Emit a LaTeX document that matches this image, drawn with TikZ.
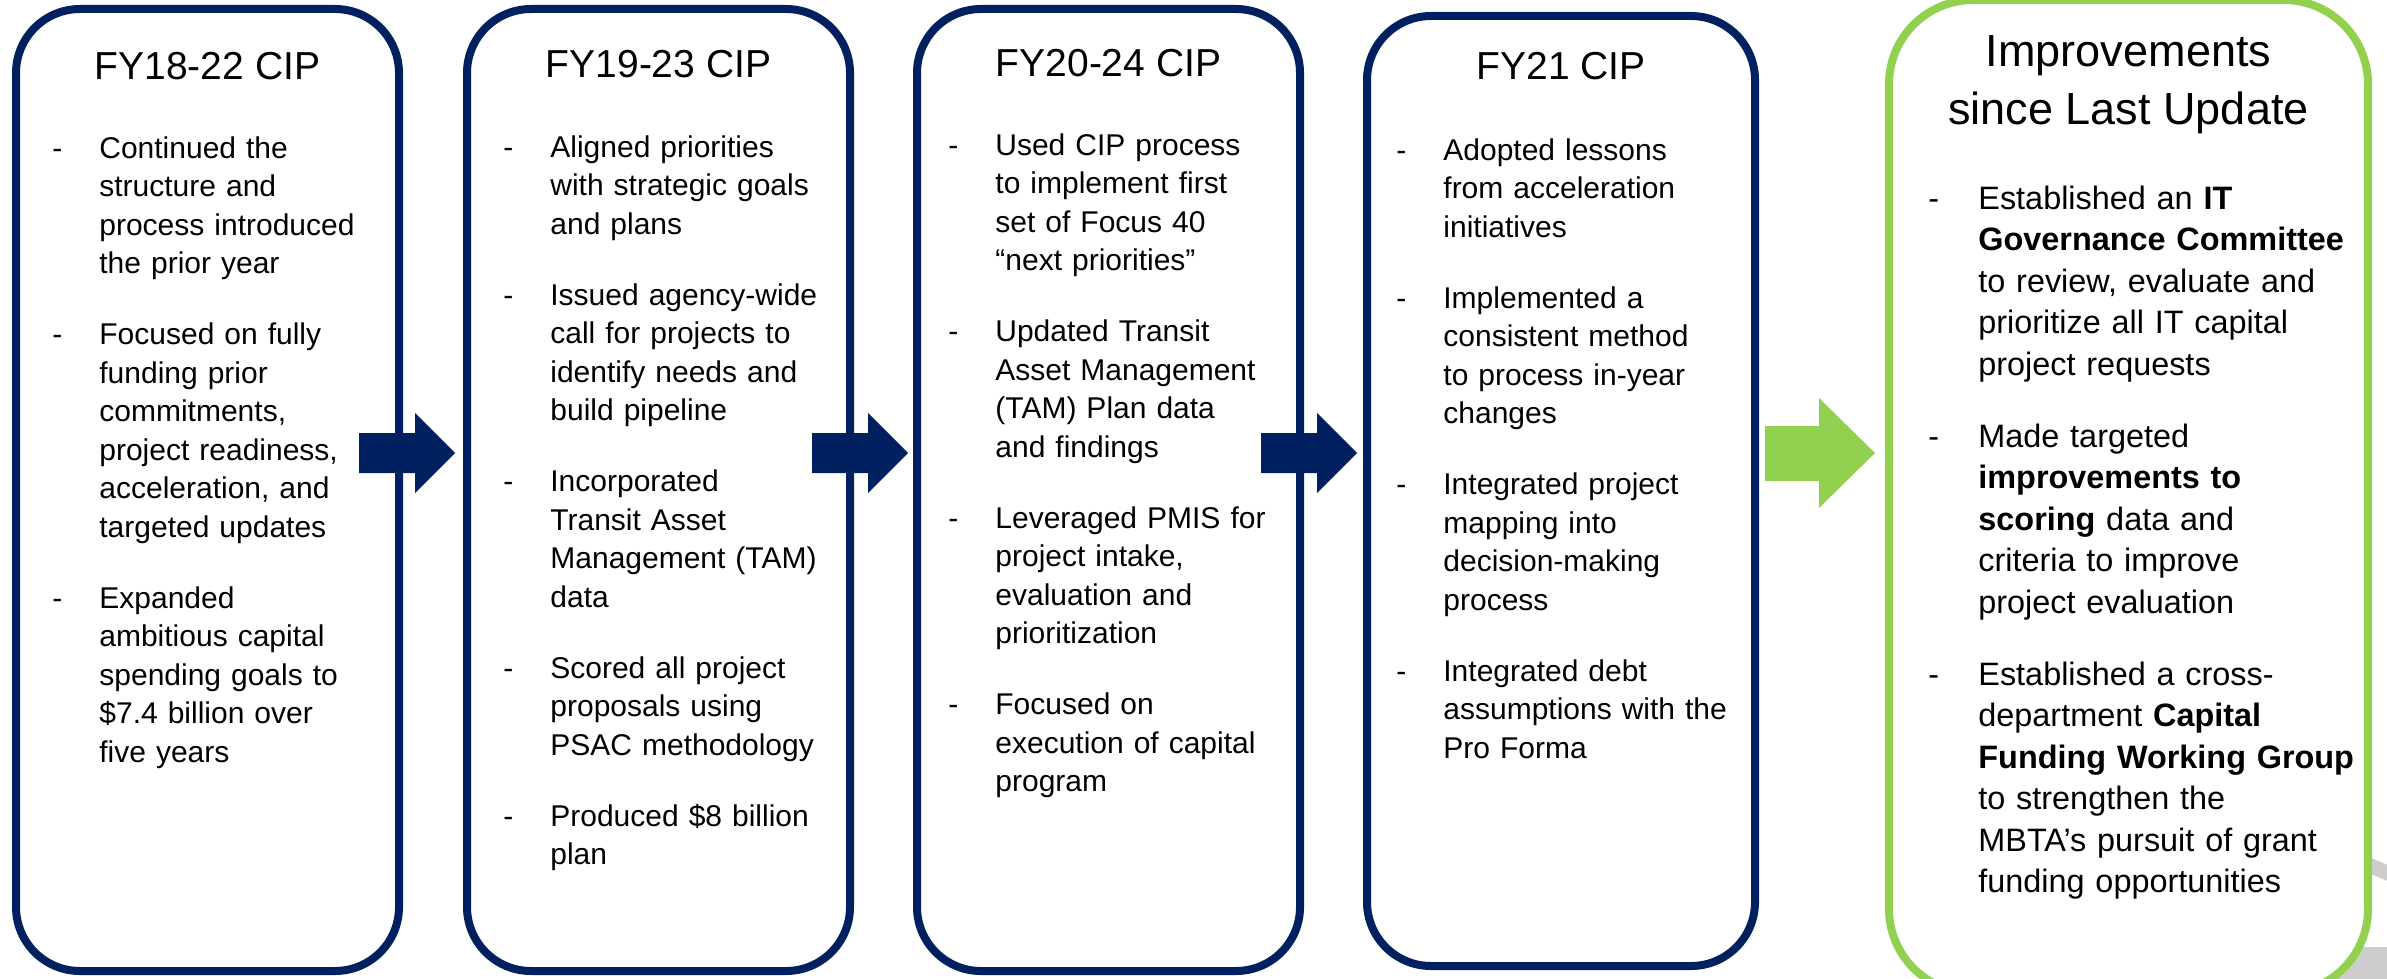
\documentclass[tikz,border=0pt]{standalone}
\usepackage{fontspec}
\setmainfont{Liberation Sans}
\usepackage{tikz}
\usetikzlibrary{positioning}
\definecolor{TransitNavy}{HTML}{002060}
\definecolor{LeafGreen}{HTML}{92D050}
\definecolor{ArcGrey}{HTML}{CDCDCD}

% dash + hanging block for each point
\newlength\bulhang
\newlength\bulgap
\newcommand{\bul}[1]{\noindent\makebox[\bulhang][l]{-}%
  \parbox[t]{\dimexpr\linewidth-\bulhang\relax}{\raggedright\strut#1\strut}\par\vspace{\bulgap}}

\begin{document}
\begin{tikzpicture}[x=0.5pt, y=-0.5pt,
    cipbox/.style={draw=TransitNavy, line width=4pt, rounded corners=32pt,
      minimum width=191.5pt, minimum height=481pt, inner sep=0pt, outer sep=0pt},
    imprbox/.style={draw=LeafGreen, fill=white, line width=4pt, rounded corners=42pt,
      minimum width=239.5pt, minimum height=496.5pt, inner sep=0pt, outer sep=0pt},
    ciptitle/.style={anchor=base, inner sep=0pt, font=\fontsize{19.5}{23}\selectfont},
    imprtitle/.style={anchor=base, inner sep=0pt, font=\fontsize{22.5}{27}\selectfont},
    notes/.style={anchor=north west, inner sep=0pt, text width=175pt,
      font=\fontsize{15}{19.25}\selectfont,
      execute at begin node={\lineskip=0pt\setlength\bulhang{23.5pt}\setlength\bulgap{16.25pt}}},
    imprnotes/.style={anchor=north west, inner sep=0pt, text width=225pt,
      font=\fontsize{16.2}{20.75}\selectfont,
      execute at begin node={\lineskip=0pt\setlength\bulhang{25pt}\setlength\bulgap{15.25pt}}}]
  \useasboundingbox (0,0) rectangle (2387,979);
  \clip (0,0) rectangle (2387,979);

  % grey ring peeking out behind the last panel
  \fill[ArcGrey] (2290,947) rectangle (2400,990);
  \draw[ArcGrey, line width=7.5pt] (2320,845) -- (2400,878);

  % panels
  \node[cipbox] (cip1) at (207.5,490) {};
  \node[cipbox] (cip2) at (658.5,490) {};
  \node[cipbox] (cip3) at (1108.5,490) {};
  \node[cipbox, minimum width=194pt, minimum height=475pt] (cip4) at (1561,491) {};
  \node[imprbox] (impr) at (2128.5,496.5) {};

  % headings
  \node[ciptitle] (head1) at ([yshift=-35.5pt]cip1.north) {FY18-22 CIP};
  \node[ciptitle] (head2) at ([yshift=-34.5pt]cip2.north) {FY19-23 CIP};
  \node[ciptitle] (head3) at ([yshift=-34pt]cip3.north) {FY20-24 CIP};
  \node[ciptitle] (head4) at ([yshift=-32pt]cip4.north) {FY21 CIP};
  \node[imprtitle] (imprhead) at ([yshift=-33.5pt]impr.north) {Improvements};
  \node[imprtitle] (imprsub) at ([yshift=-29pt]imprhead.base) {since Last Update};

  % points
  \node[notes] (list1) at ([shift={(18pt,-61pt)}]cip1.north west) {%
    \bul{Continued the\\structure and\\process introduced\\the prior year}%
    \bul{Focused on fully\\funding prior\\commitments,\\project readiness,\\acceleration, and\\targeted updates}%
    \bul{Expanded\\ambitious capital\\spending goals to\\\$7.4 billion over\\five years}};
  \node[notes] (list2) at ([shift={(18pt,-60.5pt)}]cip2.north west) {%
    \bul{Aligned priorities\\with strategic goals\\and plans}%
    \bul{Issued agency-wide\\call for projects to\\identify needs and\\build pipeline}%
    \bul{Incorporated\\Transit Asset\\Management (TAM)\\data}%
    \bul{Scored all project\\proposals using\\PSAC methodology}%
    \bul{Produced \$8 billion\\plan}};
  \node[notes] (list3) at ([shift={(15.5pt,-59.5pt)}]cip3.north west) {%
    \bul{Used CIP process\\to implement first\\set of Focus 40\\“next priorities”}%
    \bul{Updated Transit\\Asset Management\\(TAM) Plan data\\and findings}%
    \bul{Leveraged PMIS for\\project intake,\\evaluation and\\prioritization}%
    \bul{Focused on\\execution of capital\\program}};
  \node[notes] (list4) at ([shift={(14.5pt,-58.5pt)}]cip4.north west) {%
    \bul{Adopted lessons\\from acceleration\\initiatives}%
    \bul{Implemented a\\consistent method\\to process in-year\\changes}%
    \bul{Integrated project\\mapping into\\decision-making\\process}%
    \bul{Integrated debt\\assumptions with the\\Pro Forma}};
  \node[imprnotes] (list5) at ([shift={(19.5pt,-90pt)}]impr.north west) {%
    \bul{Established an \textbf{IT}\\\textbf{Governance Committee}\\to review, evaluate and\\prioritize all IT capital\\project requests}%
    \bul{Made targeted\\\textbf{improvements to}\\\textbf{scoring} data and\\criteria to improve\\project evaluation}%
    \bul{Established a cross-\\department \textbf{Capital}\\\textbf{Funding Working Group}\\to strengthen the\\MBTA’s pursuit of grant\\funding opportunities}};

  % block arrows between panels
  \foreach \x in {359,812,1261}
    \fill[TransitNavy] (\x,433) -- ++(56,0) -- ++(0,-20) -- ++(40,40)
      -- ++(-40,40) -- ++(0,-20) -- ++(-56,0) -- cycle;
  \fill[LeafGreen] (1765,426) -- ++(54,0) -- ++(0,-28) -- ++(56,55)
    -- ++(-56,55) -- ++(0,-27) -- ++(-54,0) -- cycle;
\end{tikzpicture}
\end{document}
